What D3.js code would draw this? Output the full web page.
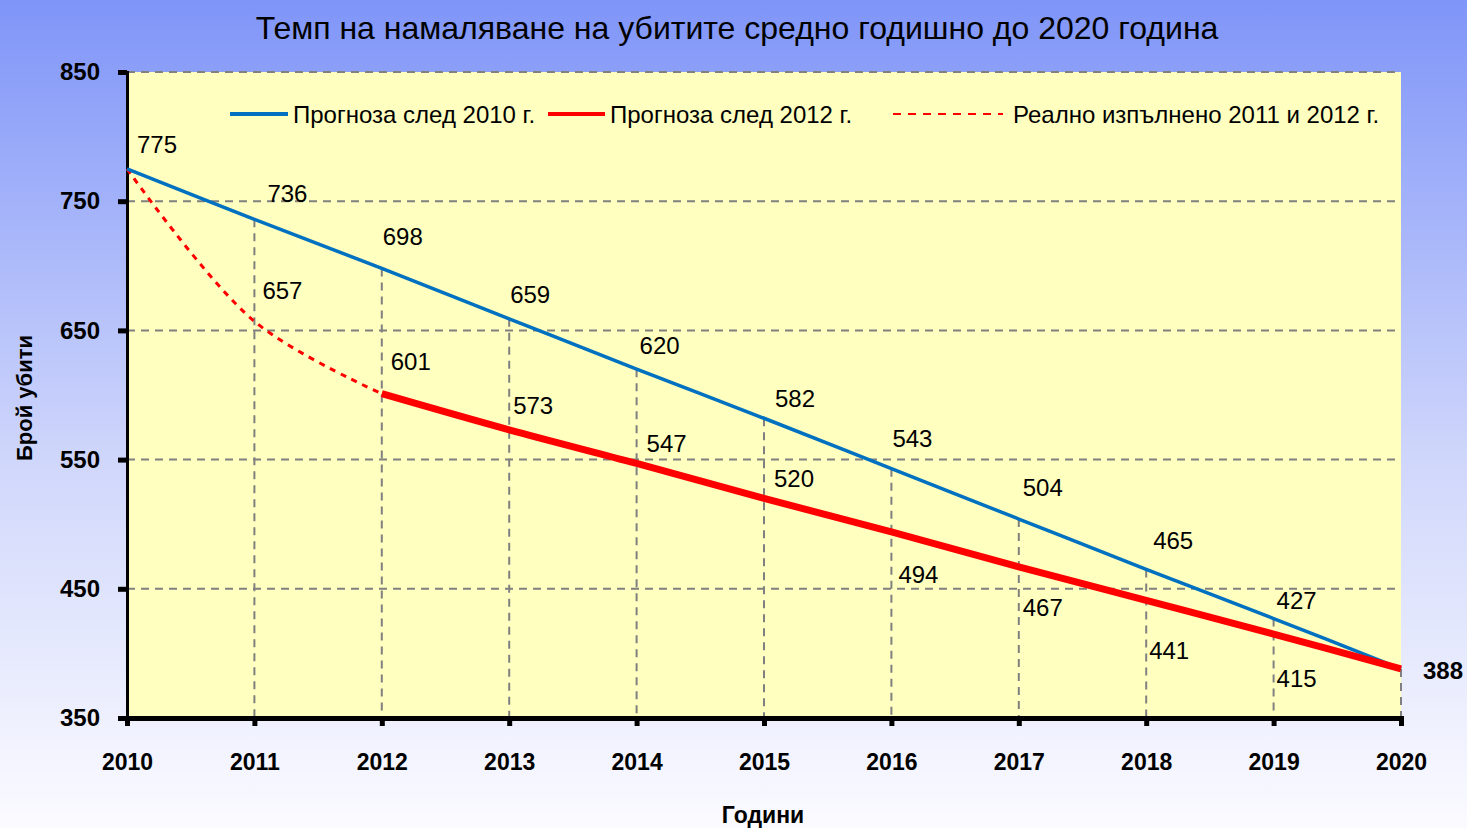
<!DOCTYPE html>
<html>
<head>
<meta charset="utf-8">
<script src="https://cdn.jsdelivr.net/npm/d3@7"></script>
<style>
  html, body { margin: 0; padding: 0; }
  body { width: 1467px; height: 828px; overflow: hidden; }
  text { font-family: "Liberation Sans", Arial, sans-serif; fill: #000; }
</style>
</head>
<body>
<div id="chart"></div>
<script>
// chart data
const years = [2010, 2011, 2012, 2013, 2014, 2015, 2016, 2017, 2018, 2019, 2020];
const forecast2010 = [775, 736, 698, 659, 620, 582, 543, 504, 465, 427, 388];
const forecast2012Years = [2012, 2013, 2014, 2015, 2016, 2017, 2018, 2019, 2020];
const forecast2012 = [601, 573, 547, 520, 494, 467, 441, 415, 388];
const actualYears = [2010, 2011, 2012];
const actual = [775, 657, 601];
const yTicks = [350, 450, 550, 650, 750, 850];
const gridValues = [450, 550, 650, 750, 850];

// label offsets (px) from each point
const blueLabelOffsets = [[30,-24],[33,-26],[21,-32],[21,-24],[23,-24],[31,-20],[21,-30],[24,-32],[27,-29],[23,-18],[42,2]];
const redLabelOffsets = [[29,-32],[24,-24],[30,-20],[30,-20],[27,43],[24,41],[23,50],[23,44]];
const actualLabelOffsets = [null, [28,-31], null];

const W = 1467, H = 828;
const margin = { left: 127, right: 66, top: 72, bottom: 110 };

const svg = d3.select("#chart").append("svg")
    .attr("width", W)
    .attr("height", H);

// background gradient
const defs = svg.append("defs");
const grad = defs.append("linearGradient")
    .attr("id", "bg")
    .attr("x1", 0).attr("y1", 0).attr("x2", 0).attr("y2", 1);
grad.append("stop").attr("offset", "0%").attr("stop-color", "#7f95f8");
grad.append("stop").attr("offset", "55%").attr("stop-color", "#cfd6fb");
grad.append("stop").attr("offset", "100%").attr("stop-color", "#fbfbff");

svg.append("rect")
    .attr("width", W).attr("height", H)
    .attr("fill", "url(#bg)");

const x = d3.scaleLinear()
    .domain([2010, 2020])
    .range([margin.left, W - margin.right]);

const y = d3.scaleLinear()
    .domain([350, 850])
    .range([H - margin.bottom, margin.top]);

// plot area
svg.append("rect")
    .attr("x", x(2010)).attr("y", y(850))
    .attr("width", x(2020) - x(2010))
    .attr("height", y(350) - y(850))
    .attr("fill", "#ffffbf");

// horizontal gridlines
svg.append("g")
    .selectAll("line")
    .data(gridValues)
    .enter()
    .append("line")
    .attr("x1", x(2010)).attr("x2", x(2020))
    .attr("y1", d => y(d)).attr("y2", d => y(d))
    .style("stroke", "#808080")
    .style("stroke-width", 2)
    .style("stroke-dasharray", "8,6");

// drop lines from the forecast points to the axis
svg.append("g")
    .selectAll("line")
    .data(years.map((yr, i) => ({ yr, v: forecast2010[i] })))
    .enter()
    .append("line")
    .attr("x1", d => x(d.yr)).attr("x2", d => x(d.yr))
    .attr("y1", d => y(d.v)).attr("y2", y(350))
    .style("stroke", "#808080")
    .style("stroke-width", 2)
    .style("stroke-dasharray", "8,6");

// y axis
const yAxis = d3.axisLeft(y)
    .tickValues(yTicks)
    .tickSize(9)
    .tickPadding(18);
const gy = svg.append("g")
    .attr("transform", `translate(${x(2010)},0)`)
    .call(yAxis);
gy.select(".domain").style("stroke", "#000").style("stroke-width", 3);
gy.selectAll(".tick line").style("stroke", "#000").style("stroke-width", 5);
gy.selectAll(".tick text")
    .style("font-size", "24px")
    .style("font-weight", "bold");

// x axis
const xAxis = d3.axisBottom(x)
    .tickValues(years)
    .tickFormat(d3.format("d"))
    .tickSize(8)
    .tickPadding(28);
const gx = svg.append("g")
    .attr("transform", `translate(0,${y(350)})`)
    .call(xAxis);
gx.select(".domain").style("stroke", "#000").style("stroke-width", 5);
gx.selectAll(".tick line").style("stroke", "#000").style("stroke-width", 5);
gx.selectAll(".tick text")
    .style("font-size", "23px")
    .style("font-weight", "bold");

// lines
const line = d3.line()
    .x(d => x(d[0]))
    .y(d => y(d[1]))
    .curve(d3.curveCatmullRom.alpha(0.5));

svg.append("path")
    .datum(actualYears.map((yr, i) => [yr, actual[i]]))
    .attr("d", line)
    .attr("fill", "none")
    .style("stroke", "#ff0000")
    .style("stroke-width", 3)
    .style("stroke-dasharray", "6,6");

svg.append("path")
    .datum(years.map((yr, i) => [yr, forecast2010[i]]))
    .attr("d", line)
    .attr("fill", "none")
    .style("stroke", "#0070c0")
    .style("stroke-width", 3.5);

svg.append("path")
    .datum(forecast2012Years.map((yr, i) => [yr, forecast2012[i]]))
    .attr("d", line)
    .attr("fill", "none")
    .style("stroke", "#ff0000")
    .style("stroke-width", 7);

// data labels
const labelFont = "24px";
svg.append("g")
    .selectAll("text")
    .data(years.map((yr, i) => ({ yr, v: forecast2010[i], o: blueLabelOffsets[i], last: i === years.length - 1 })))
    .enter()
    .append("text")
    .attr("x", d => x(d.yr) + d.o[0])
    .attr("y", d => y(d.v) + d.o[1])
    .attr("text-anchor", "middle")
    .attr("dominant-baseline", "central")
    .style("font-size", labelFont)
    .style("font-weight", d => d.last ? "bold" : "normal")
    .text(d => d.v);

svg.append("g")
    .selectAll("text")
    .data(forecast2012Years.slice(0, -1).map((yr, i) => ({ yr, v: forecast2012[i], o: redLabelOffsets[i] })))
    .enter()
    .append("text")
    .attr("x", d => x(d.yr) + d.o[0])
    .attr("y", d => y(d.v) + d.o[1])
    .attr("text-anchor", "middle")
    .attr("dominant-baseline", "central")
    .style("font-size", labelFont)
    .text(d => d.v);

svg.append("g")
    .selectAll("text")
    .data(actualYears.map((yr, i) => ({ yr, v: actual[i], o: actualLabelOffsets[i] })).filter(d => d.o))
    .enter()
    .append("text")
    .attr("x", d => x(d.yr) + d.o[0])
    .attr("y", d => y(d.v) + d.o[1])
    .attr("text-anchor", "middle")
    .attr("dominant-baseline", "central")
    .style("font-size", labelFont)
    .text(d => d.v);

// legend
const legendItems = [
  { label: "Прогноза след 2010 г.", color: "#0070c0", width: 4, dash: null, x1: 230, x2: 288 },
  { label: "Прогноза след 2012 г.", color: "#ff0000", width: 4, dash: null, x1: 548, x2: 605 },
  { label: "Реално изпълнено 2011 и 2012 г.", color: "#ff0000", width: 2, dash: "8,7", x1: 893, x2: 1003 }
];
const legend = svg.append("g");
legendItems.forEach(item => {
  legend.append("line")
      .attr("x1", item.x1).attr("x2", item.x2)
      .attr("y1", 114).attr("y2", 114)
      .style("stroke", item.color)
      .style("stroke-width", item.width)
      .style("stroke-dasharray", item.dash);
  legend.append("text")
      .attr("x", item.x2 + (item.dash ? 10 : 5))
      .attr("y", 114)
      .attr("dominant-baseline", "central")
      .style("font-size", "24px")
      .text(item.label);
});

// titles
svg.append("text")
    .attr("x", 737).attr("y", 28)
    .attr("text-anchor", "middle")
    .attr("dominant-baseline", "central")
    .style("font-size", "32px")
    .text("Темп на намаляване на убитите средно годишно до 2020 година");

svg.append("text")
    .attr("transform", "translate(24,398) rotate(-90)")
    .attr("text-anchor", "middle")
    .attr("dominant-baseline", "central")
    .style("font-size", "22px")
    .style("font-weight", "bold")
    .text("Брой убити");

svg.append("text")
    .attr("x", 763).attr("y", 815)
    .attr("text-anchor", "middle")
    .attr("dominant-baseline", "central")
    .style("font-size", "23px")
    .style("font-weight", "bold")
    .text("Години");
</script>
</body>
</html>
